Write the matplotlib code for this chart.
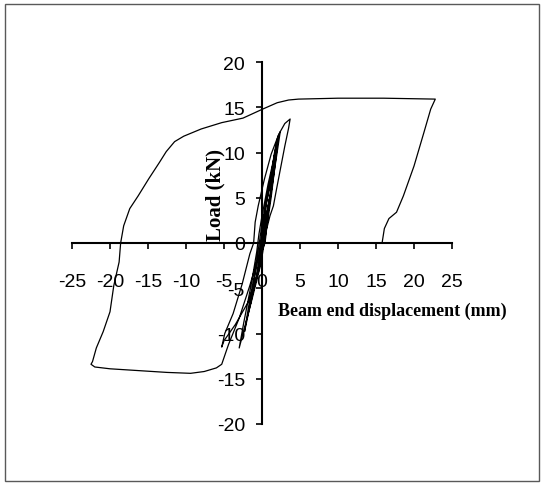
import matplotlib
matplotlib.use("Agg")
import matplotlib.pyplot as plt
from matplotlib.patches import Rectangle

# beam end displacement (mm) and load (kN), in test order
disp = [0.0,
        0.2, 0.5, 1.0, 0.6, 0.2, -0.1, -0.5, -0.8, -0.4, -0.1, 0.2,
        0.6, 1.1, 1.6, 1.1, 0.5, 0.1, -0.3, -0.9, -1.6, -1.0, -0.4, 0.0, 0.5,
        1.1, 1.6, 2.0, 1.6, 1.0, 0.5, 0.2, -0.3, -1.2, -2.3, -1.8, -1.0, -0.5, -0.1, 0.6,
        1.3, 1.9, 2.2, 1.8, 1.2, 0.6, 0.3, -0.2, -1.4, -3.0, -2.4, -1.4, -0.7, -0.4, 0.0, 0.8,
        1.6, 2.1, 2.4, 1.9, 1.1, 0.5, 0.2, -0.4, -1.8, -3.5, -5.0, -5.3,
        -4.9, -3.8, -2.6, -1.6, -1.1, -0.9, -0.5, 0.3, 1.2, 2.2, 3.0, 3.7,
        3.5, 3.0, 2.4, 1.9, 1.5, 1.05, 0.6, 0.4, -0.1, -0.7, -1.6, -3.0, -4.4, -5.3,
        -6.0, -7.6, -9.4, -12.5, -16.3, -20.0, -22.0, -22.5,
        -22.3, -21.8, -20.9, -20.0, -19.5, -18.8, -18.6, -18.2, -17.4, -16.3, -14.9,
        -13.5, -12.6, -11.5, -10.3, -8.0, -5.3, -2.5, 0.1, 2.0, 3.5, 4.8, 10.0, 16.0, 22.8,
        22.2, 21.3, 20.0, 18.6, 17.7, 16.7, 16.1, 15.8]
load = [0.0,
        1.5, 3.0, 5.0, 3.0, 0.5, -1.5, -3.0, -4.2, -2.0, 0.0, 2.5,
        4.5, 6.5, 8.5, 5.5, 2.0, 0.0, -2.0, -4.5, -7.0, -4.0, -1.2, 1.0, 4.0,
        6.8, 9.8, 11.5, 8.5, 4.8, 1.5, 0.0, -2.5, -5.5, -9.8, -7.2, -3.5, -0.8, 1.5, 5.0,
        8.0, 11.0, 12.0, 9.2, 5.0, 1.6, 0.0, -2.5, -6.5, -11.6, -8.8, -4.5, -1.0, 1.0, 3.0, 6.5,
        9.5, 11.6, 12.3, 9.5, 5.0, 1.5, 0.0, -3.0, -6.5, -9.0, -10.8, -11.5,
        -10.0, -7.8, -4.5, -1.2, 0.0, 2.3, 4.1, 7.0, 9.8, 12.0, 13.2, 13.7,
        12.7, 10.7, 8.1, 5.9, 4.1, 3.0, 1.5, 0.0, -1.0, -2.1, -4.7, -8.3, -11.2, -13.4,
        -13.8, -14.2, -14.4, -14.3, -14.1, -13.9, -13.7, -13.4,
        -13.1, -11.6, -9.8, -7.6, -4.7, -2.1, 0.0, 1.9, 3.8, 5.2, 7.1,
        8.9, 10.1, 11.2, 11.8, 12.6, 13.3, 13.8, 14.8, 15.5, 15.8, 15.9, 16.0, 16.0, 15.9,
        14.8, 12.2, 8.5, 5.2, 3.4, 2.7, 1.6, 0.0]

xticks = [-25, -20, -15, -10, -5, 0, 5, 10, 15, 20, 25]
yticks = [-20, -15, -10, -5, 0, 5, 10, 15, 20]

plt.rcParams['font.family'] = ['Liberation Sans', 'DejaVu Sans']
plt.rcParams['axes.unicode_minus'] = False

fig = plt.figure(figsize=(5.44, 4.85), dpi=100)
ax = fig.add_axes([72/544, 1-425/485, 380/544, 362/485])

ax.plot(disp, load, color='black', lw=0.9)

ax.set_xlim(-25, 25)
ax.set_ylim(-20, 20)
ax.set_xticks(xticks)
ax.set_yticks(yticks)

# excel style: axes cross at the origin
for s in ['top', 'right']:
    ax.spines[s].set_visible(False)
ax.spines['left'].set_position(('data', 0))
ax.spines['bottom'].set_position(('data', 0))
ax.spines['left'].set_linewidth(1.5)
ax.spines['bottom'].set_linewidth(1.5)
ax.tick_params(axis='x', direction='out', length=4.3, width=1.2, pad=17, labelsize=14)
ax.tick_params(axis='y', direction='out', length=4.3, width=1.2, pad=8, labelsize=14)
ax.patch.set_visible(False)

fig.text(392/544, 1-311/485, 'Beam end displacement (mm)', ha='center', va='center',
         family='Liberation Serif', fontweight='bold', fontsize=13)
fig.text(215/544, 1-195/485, 'Load (kN)', ha='center', va='center', rotation=90,
         family='Liberation Serif', fontweight='bold', fontsize=15)

# chart border
fig.patches.append(Rectangle((5/544, 3/485), 534/544, 477/485, transform=fig.transFigure,
                             fill=False, edgecolor='#595959', lw=1.0))

fig.savefig('out.png', dpi=100)
